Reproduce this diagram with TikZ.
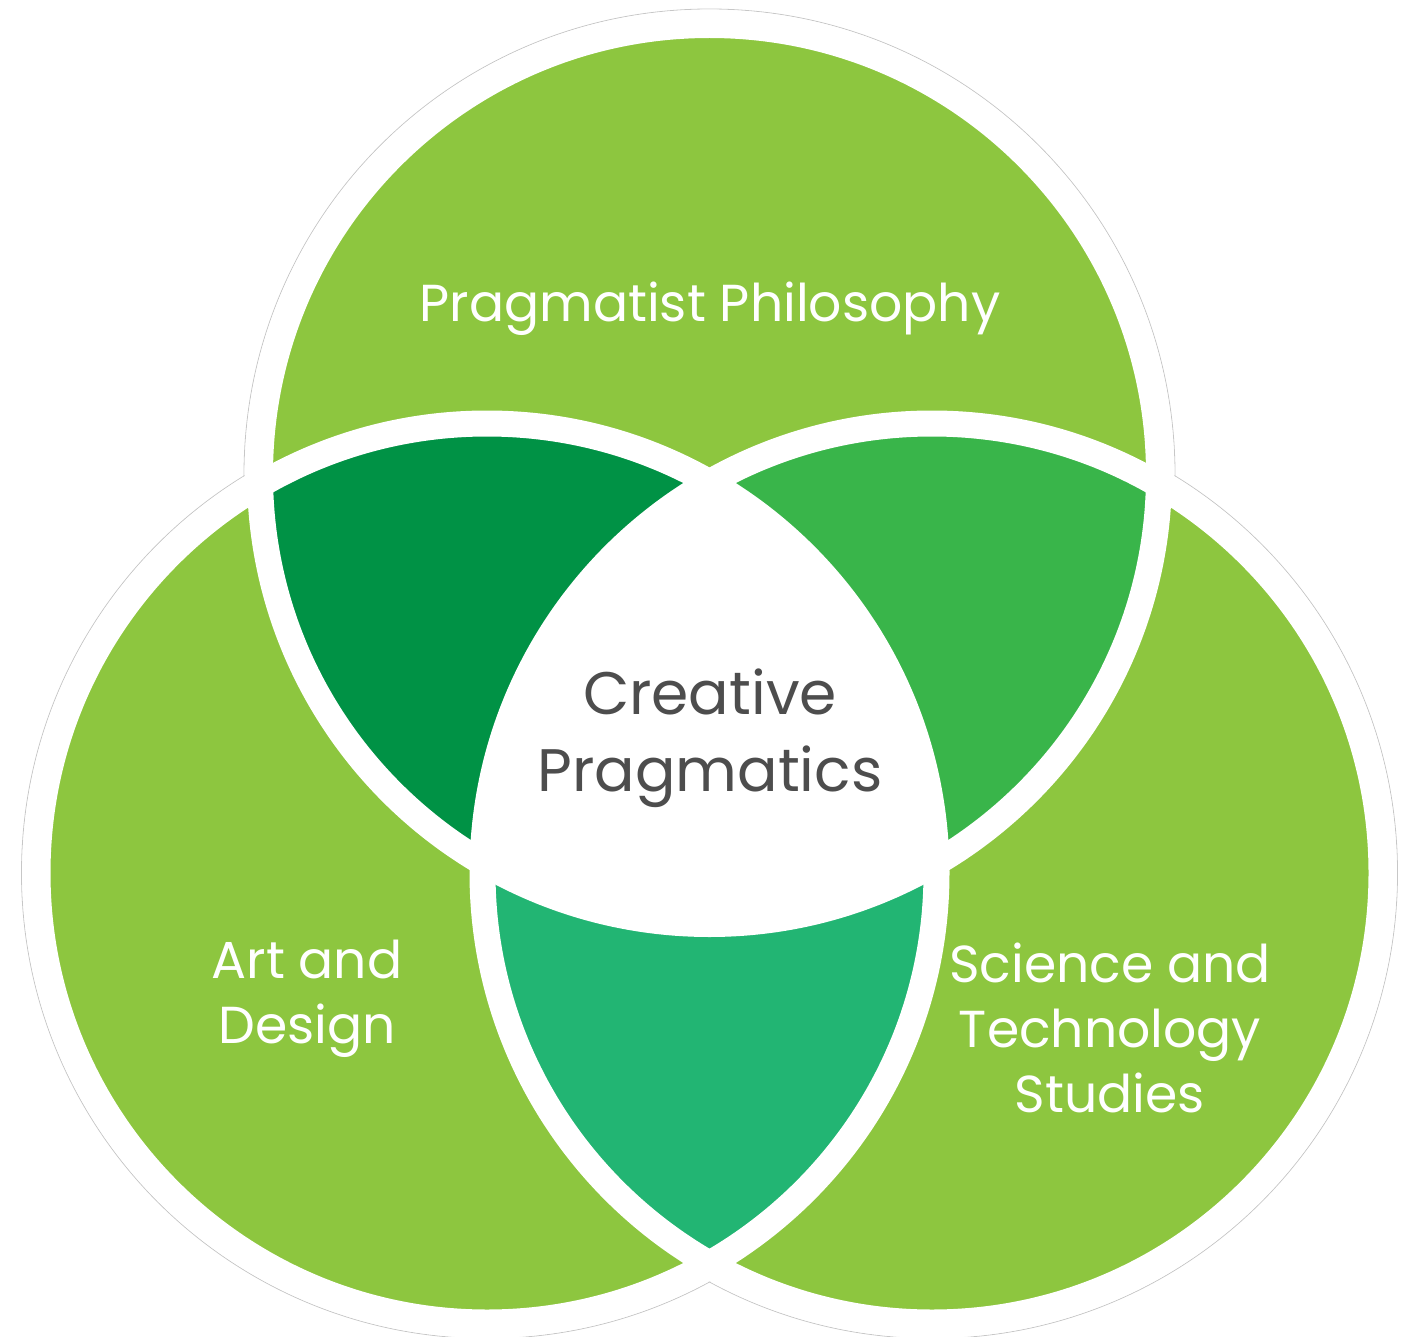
\documentclass[tikz,border=0pt]{standalone}
\usepackage{fontspec}
\setmainfont{Poppins}
\definecolor{leafgreen}{RGB}{141,198,63}
\definecolor{pinegreen}{RGB}{0,146,69}
\definecolor{ferngreen}{RGB}{57,181,74}
\definecolor{seagreen}{RGB}{34,181,115}
\definecolor{inkgray}{RGB}{77,77,77}
\tikzset{every picture/.style={line width=0.75pt}}

\begin{document}
\begin{tikzpicture}[x=0.75pt,y=0.75pt,yscale=-1,xscale=1,
  ring/.style={draw=white, line width=19.5pt},
  halo/.style={draw=black!22, line width=0.6pt},
  outerlabel/.style={text=white, align=center, font=\fontsize{39}{49}\selectfont},
  innerlabel/.style={text=inkgray, align=center, font=\fontsize{45}{58}\selectfont}]
\path[use as bounding box] (0,0) rectangle (1405,1337);

% circle centres
\coordinate (top) at (709.5,474.5);
\coordinate (left) at (487,873);
\coordinate (right) at (932,873);

%Shape: Circle halo
\draw[halo] (top) circle (465.5);
\draw[halo] (left) circle (465.5);
\draw[halo] (right) circle (465.5);
\fill[white] (top) circle (464.8);
\fill[white] (left) circle (464.8);
\fill[white] (right) circle (464.8);

%Shape: Circle [top, left, right]
\fill[leafgreen] (top) circle (437.5);
\fill[leafgreen] (left) circle (437.5);
\fill[leafgreen] (right) circle (437.5);

%Shape: Lens top-left and top-right
\begin{scope}
  \clip (top) circle (437.5);
  \fill[pinegreen] (left) circle (437.5);
  \fill[ferngreen] (right) circle (437.5);
\end{scope}
%Shape: Lens bottom
\begin{scope}
  \clip (left) circle (437.5);
  \fill[seagreen] (right) circle (437.5);
\end{scope}
%Shape: centre
\begin{scope}
  \clip (top) circle (438.5);
  \clip (left) circle (438.5);
  \fill[white] (right) circle (438.5);
\end{scope}

%Shape: Circle rings
\draw[ring] (top) circle (449.5);
\draw[ring] (left) circle (449.5);
\draw[ring] (right) circle (449.5);

% Text Node
\node[outerlabel, anchor=base] (philo) at (710,322) {Pragmatist Philosophy};
% Text Node
\node[innerlabel] (creative) at (710,738) {Creative\\Pragmatics};
% Text Node
\node[outerlabel] (art) at (307,999) {Art and\\Design};
% Text Node
\node[outerlabel] (sts) at (1110,1028) {Science and\\Technology\\Studies};

\end{tikzpicture}
\end{document}
